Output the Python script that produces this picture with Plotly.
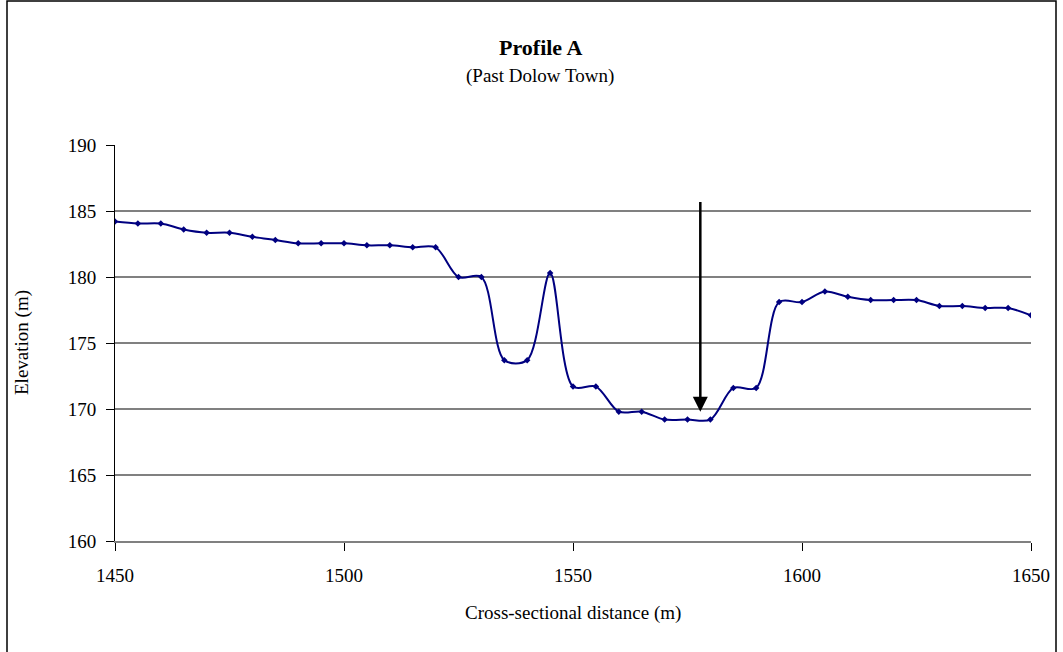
import plotly.graph_objects as go

# Data
distance = [1450, 1455, 1460, 1465, 1470, 1475, 1480, 1485, 1490, 1495,
            1500, 1505, 1510, 1515, 1520, 1525, 1530, 1535, 1540, 1545,
            1550, 1555, 1560, 1565, 1570, 1575, 1580, 1585, 1590, 1595,
            1600, 1605, 1610, 1615, 1620, 1625, 1630, 1635, 1640, 1645, 1650]
elevation = [184.2, 184.05, 184.05, 183.6, 183.35, 183.35, 183.05, 182.8, 182.55, 182.55,
             182.55, 182.4, 182.4, 182.25, 182.25, 180.0, 180.0, 173.7, 173.7, 180.3,
             171.7, 171.7, 169.8, 169.8, 169.2, 169.2, 169.2, 171.6, 171.6, 178.1,
             178.1, 178.9, 178.5, 178.25, 178.25, 178.25, 177.8, 177.8, 177.65, 177.65, 177.1]

x_ticks = [1450, 1500, 1550, 1600, 1650]
y_ticks = [160, 165, 170, 175, 180, 185, 190]

arrow_x = 1577.8
arrow_top = 185.8
arrow_tip = 169.8

title_text = "Profile A"
subtitle_text = "(Past Dolow Town)"
x_title = "Cross-sectional distance (m)"
y_title = "Elevation (m)"

W, H = 1063, 652
L, R, T, B = 115, 1031, 145, 541
FONT = "Liberation Serif, Times New Roman, serif"

def px_x(p):
    return (p - L) / (R - L)

def px_y(p):
    return (B - p) / (B - T)

fig = go.Figure()
fig.add_trace(go.Scatter(
    x=distance, y=elevation, mode="lines+markers",
    line=dict(color="#000080", width=2, shape="spline", smoothing=0.9),
    marker=dict(symbol="diamond", size=5, color="#000080"),
    showlegend=False, hoverinfo="x+y",
))

fig.add_annotation(
    x=arrow_x, y=arrow_tip, ax=arrow_x, ay=arrow_top,
    xref="x", yref="y", axref="x", ayref="y",
    text="", showarrow=True, arrowhead=2, arrowsize=1.2, arrowwidth=2.5,
    arrowcolor="#000000",
)

fig.add_annotation(x=px_x(540), y=px_y(47), xref="paper", yref="paper",
                   text="<b>" + title_text + "</b>", showarrow=False,
                   font=dict(family=FONT, size=22, color="#000000"),
                   xanchor="center", yanchor="middle")
fig.add_annotation(x=px_x(540), y=px_y(76), xref="paper", yref="paper",
                   text=subtitle_text, showarrow=False,
                   font=dict(family=FONT, size=19, color="#000000"),
                   xanchor="center", yanchor="middle")
fig.add_annotation(x=px_x(573), y=px_y(613), xref="paper", yref="paper",
                   text=x_title, showarrow=False,
                   font=dict(family=FONT, size=19, color="#000000"),
                   xanchor="center", yanchor="middle")
fig.add_annotation(x=px_x(22), y=px_y(343), xref="paper", yref="paper",
                   text=y_title, showarrow=False, textangle=-90,
                   font=dict(family=FONT, size=19, color="#000000"),
                   xanchor="center", yanchor="middle")

# outer frame
fig.add_shape(type="rect", xref="paper", yref="paper",
              x0=px_x(7), x1=px_x(1056), y0=px_y(700), y1=px_y(1),
              line=dict(color="#000000", width=1.5), fillcolor="rgba(0,0,0,0)")

fig.update_xaxes(
    range=[1450, 1650], tickmode="array", tickvals=x_ticks,
    ticks="outside", ticklen=8, tickwidth=1, tickcolor="#000000",
    showgrid=False, zeroline=False,
    showline=True, linecolor="#808080", linewidth=2,
    tickfont=dict(family=FONT, size=19, color="#000000"),
    ticklabelstandoff=8,
)
fig.update_yaxes(
    range=[160, 190], tickmode="array", tickvals=y_ticks,
    ticks="outside", ticklen=8, tickwidth=1, tickcolor="#000000",
    showgrid=True, gridcolor="#808080", gridwidth=2, zeroline=False,
    showline=True, linecolor="#000000", linewidth=1,
    tickfont=dict(family=FONT, size=19, color="#000000"),
    ticklabelstandoff=6,
)

fig.update_layout(
    width=W, height=H, autosize=False,
    margin=dict(l=L, r=W - R, t=T, b=H - B, pad=0),
    plot_bgcolor="#ffffff", paper_bgcolor="#ffffff",
    showlegend=False,
)

fig.write_html("out.html", config={"displayModeBar": False},
               post_script="document.body.style.margin='0';document.body.style.overflow='hidden';")
